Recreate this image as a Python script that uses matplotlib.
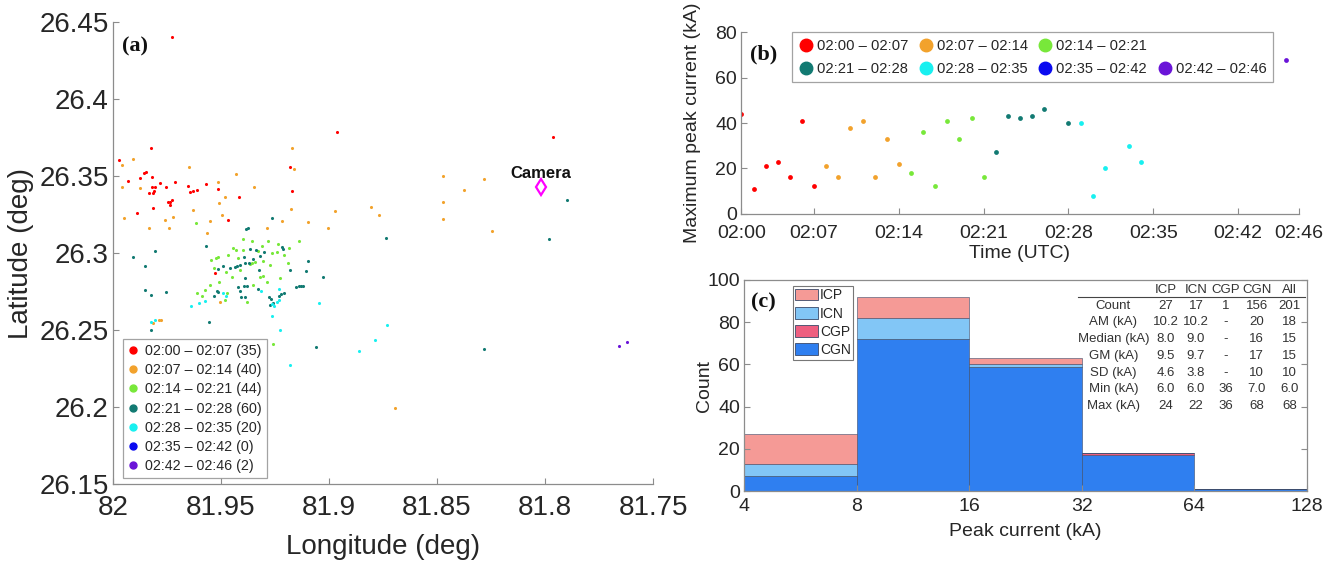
import numpy as np
import matplotlib
matplotlib.use("Agg")
import matplotlib.pyplot as plt
from matplotlib.lines import Line2D
from matplotlib.patches import Patch

plt.rcParams['font.family'] = ['Liberation Sans', 'DejaVu Sans']

# ---------------- data ----------------
period_labels = ['02:00 – 02:07', '02:07 – 02:14', '02:14 – 02:21', '02:21 – 02:28',
                 '02:28 – 02:35', '02:35 – 02:42', '02:42 – 02:46']
period_counts = [35, 40, 44, 60, 20, 0, 2]
period_colors = ['#FF0000', '#F2A22C', '#78E83A', '#127A72', '#18F0F0', '#0A0AF0', '#6A14D8']

# stroke locations (lon, lat) per 7-min period
lon_p1 = [81.9725, 81.8965, 81.7964, 81.9823, 81.9971, 81.9932, 81.9876, 81.9858, 81.9847,
          81.9818, 81.9819, 81.9806, 81.9832, 81.9816, 81.9812, 81.9753, 81.9712, 81.9653,
          81.9642, 81.9628, 81.9611, 81.9569, 81.9747, 81.9738, 81.9726, 81.9738, 81.9815,
          81.9888, 81.9469, 81.9417, 81.9182, 81.9173, 81.9529, 81.9512, 81.9782]
lat_p1 = [26.4408, 26.3787, 26.3757, 26.3685, 26.3605, 26.3471, 26.3486, 26.3519, 26.3527,
          26.3497, 26.3432, 26.3428, 26.3393, 26.3393, 26.3402, 26.3432, 26.3460, 26.3434,
          26.3395, 26.3402, 26.3410, 26.3449, 26.3330, 26.3334, 26.3343, 26.3313, 26.3295,
          26.3259, 26.3217, 26.3367, 26.3558, 26.3406, 26.2869, 26.3414, 26.3455]

lon_p2 = [81.9960, 81.9906, 81.9957, 81.9950, 81.9875, 81.9832, 81.9758, 81.9724, 81.9742,
          81.9650, 81.9631, 81.9551, 81.9512, 81.9511, 81.9483, 81.9497, 81.9566, 81.9431,
          81.9347, 81.9287, 81.9162, 81.9176, 81.9216, 81.9099, 81.9006, 81.8972, 81.9169,
          81.8805, 81.8768, 81.8474, 81.8282, 81.8375, 81.8474, 81.8474, 81.8245, 81.8694,
          81.9816, 81.9788, 81.9776, 81.9505]
lat_p2 = [26.3573, 26.3610, 26.3428, 26.3230, 26.3422, 26.3162, 26.3214, 26.3235, 26.3164,
          26.3558, 26.3281, 26.3211, 26.3463, 26.3324, 26.3363, 26.3246, 26.3133, 26.3515,
          26.3428, 26.3164, 26.3547, 26.3285, 26.3211, 26.3205, 26.3164, 26.3276, 26.3684,
          26.3302, 26.3246, 26.3502, 26.3480, 26.3411, 26.3333, 26.3224, 26.3144, 26.1996,
          26.2548, 26.2564, 26.2564, 26.2683]

lon_p3 = [81.9443, 81.9431, 81.9397, 81.9237, 81.9137, 81.9265, 81.9242, 81.9356, 81.9364,
          81.9343, 81.9304, 81.9304, 81.9288, 81.9319, 81.9450, 81.9378, 81.9545, 81.9523,
          81.9515, 81.9508, 81.9549, 81.9574, 81.9610, 81.9617, 81.9258, 81.9356, 81.9397,
          81.9468, 81.9421, 81.9329, 81.9208, 81.9273, 81.9185, 81.9477, 81.9412, 81.9481,
          81.9352, 81.9190, 81.9282, 81.9588, 81.9532, 81.9472, 81.9227, 81.9310]
lat_p3 = [26.3032, 26.3021, 26.3021, 26.3060, 26.3079, 26.2999, 26.3010, 26.2938, 26.2930,
          26.2945, 26.2951, 26.2852, 26.2815, 26.2847, 26.2843, 26.2685, 26.2956, 26.2967,
          26.2977, 26.2811, 26.2793, 26.2761, 26.2743, 26.3194, 26.2410, 26.3079, 26.3090,
          26.2988, 26.2969, 26.3014, 26.2988, 26.2923, 26.3034, 26.2877, 26.2890, 26.2695,
          26.2793, 26.2936, 26.3079, 26.2722, 26.2903, 26.2741, 26.2838, 26.3047]

lon_p4 = [81.9366, 81.9339, 81.9392, 81.9350, 81.9300, 81.9319, 81.9218, 81.9489, 81.9435,
          81.9424, 81.9412, 81.9390, 81.9370, 81.9097, 81.9106, 81.9029, 81.9389, 81.9392,
          81.9423, 81.9412, 81.9380, 81.9407, 81.9389, 81.9330, 81.9279, 81.9269, 81.9233,
          81.9221, 81.9210, 81.9258, 81.9275, 81.9153, 81.9140, 81.9128, 81.9122, 81.9568,
          81.9807, 81.9909, 81.9853, 81.9514, 81.9458, 81.9852, 81.9823, 81.9756, 81.9520,
          81.9514, 81.9531, 81.9554, 81.9823, 81.9265, 81.9384, 81.9377, 81.9213, 81.7899,
          81.7980, 81.8735, 81.8282, 81.9062, 81.9324, 81.9180]
lat_p4 = [26.3025, 26.3021, 26.2977, 26.2964, 26.3006, 26.2982, 26.3038, 26.2917, 26.2912,
          26.2917, 26.2925, 26.2934, 26.2934, 26.2949, 26.2884, 26.2847, 26.2837, 26.2787,
          26.2778, 26.2756, 26.2789, 26.2713, 26.2713, 26.2765, 26.2713, 26.2702, 26.2722,
          26.2735, 26.2739, 26.2674, 26.2663, 26.2778, 26.2787, 26.2789, 26.2787, 26.3048,
          26.3014, 26.2977, 26.2919, 26.2895, 26.2904, 26.2761, 26.2726, 26.2748, 26.2754,
          26.2748, 26.2724, 26.2551, 26.2499, 26.3227, 26.3157, 26.3162, 26.3027, 26.3346,
          26.3092, 26.3100, 26.2379, 26.2392, 26.2890, 26.2890]

lon_p5 = [81.9489, 81.9316, 81.9230, 81.9230, 81.9265, 81.9265, 81.9225, 81.9045, 81.9637,
          81.9602, 81.9575, 81.9477, 81.9807, 81.8730, 81.8787, 81.8861, 81.9181, 81.9255,
          81.9241, 81.9824]
lat_p5 = [26.2743, 26.2756, 26.2765, 26.2696, 26.2670, 26.2592, 26.2501, 26.2678, 26.2657,
          26.2674, 26.2689, 26.2722, 26.2566, 26.2531, 26.2434, 26.2366, 26.2273, 26.2657,
          26.2683, 26.2553]

lon_p6 = []
lat_p6 = []

lon_p7 = [81.7656, 81.7619]
lat_p7 = [26.2399, 26.2425]

camera_lon, camera_lat = 81.802, 26.3432

# maximum peak current per minute (minute index, kA)
min_p1 = [0, 1, 2, 3, 4, 5, 6]
peak_p1 = [44, 11, 21, 23, 16, 41, 12]
min_p2 = [7, 8, 9, 10, 11, 12, 13]
peak_p2 = [21, 16, 38, 41, 16, 33, 22]
min_p3 = [14, 15, 16, 17, 18, 19, 20]
peak_p3 = [18, 36, 12, 41, 33, 42, 16]
min_p4 = [21, 22, 23, 24, 25, 27]
peak_p4 = [27, 43, 42, 43, 46, 40]
min_p5 = [28, 29, 30, 32, 33]
peak_p5 = [40, 8, 20, 30, 23]
min_p6 = []
peak_p6 = []
min_p7 = [45]
peak_p7 = [68]

time_ticks = [0, 6, 13, 20, 27, 34, 41, 46]
time_labels = ['02:00', '02:07', '02:14', '02:21', '02:28', '02:35', '02:42', '02:46']

# peak current histogram (log2 bins), stacked by stroke type
bin_edges = [4, 8, 16, 32, 64, 128]
count_cgn = [7, 72, 59, 17, 1]
count_cgp = [0, 0, 0, 1, 0]
count_icn = [6, 10, 1, 0, 0]
count_icp = [14, 10, 3, 0, 0]
type_colors = {'ICP': '#F59A96', 'ICN': '#82C6F6', 'CGP': '#EE5F80', 'CGN': '#2F7FF0'}

stat_columns = ['ICP', 'ICN', 'CGP', 'CGN', 'All']
stat_rows = ['Count', 'AM (kA)', 'Median (kA)', 'GM (kA)', 'SD (kA)', 'Min (kA)', 'Max (kA)']
stat_values = [['27', '17', '1', '156', '201'],
               ['10.2', '10.2', '-', '20', '18'],
               ['8.0', '9.0', '-', '16', '15'],
               ['9.5', '9.7', '-', '17', '15'],
               ['4.6', '3.8', '-', '10', '10'],
               ['6.0', '6.0', '36', '7.0', '6.0'],
               ['24', '22', '36', '68', '68']]

# ---------------- figure ----------------
SPINE = '#8c8c8c'
TXT = '#262626'
W, H = 1335, 561
fig = plt.figure(figsize=(W / 100, H / 100), dpi=100)


def px_axes(l, t, r, b):
    return fig.add_axes([l / W, 1 - b / H, (r - l) / W, (b - t) / H])


def style(ax, fs, box=False):
    for s in ['top', 'right']:
        ax.spines[s].set_visible(box)
    for s in ax.spines.values():
        s.set_color(SPINE)
        s.set_linewidth(0.9)
    ax.tick_params(direction='in', length=4, width=0.8, color=SPINE,
                   labelcolor=TXT, labelsize=fs, right=box)


# ---- (a) map ----
axa = px_axes(113, 22.4, 653, 484)
lons = [lon_p1, lon_p2, lon_p3, lon_p4, lon_p5, lon_p6, lon_p7]
lats = [lat_p1, lat_p2, lat_p3, lat_p4, lat_p5, lat_p6, lat_p7]
for lo, la, c in zip(lons, lats, period_colors):
    axa.scatter(lo, la, s=5, color=c, linewidths=0)
axa.plot(camera_lon, camera_lat, marker='d', ms=8, mfc='none', mec='#FF00FF', mew=1.6)
axa.text(camera_lon, camera_lat + 0.004, 'Camera', ha='center', va='bottom',
         fontsize=12, fontweight='bold', color='#111111')
axa.set_xlim(82, 81.75)
axa.set_ylim(26.15, 26.45)
axa.set_xticks([82, 81.95, 81.9, 81.85, 81.8, 81.75],
               ['82', '81.95', '81.9', '81.85', '81.8', '81.75'])
axa.set_yticks([26.15, 26.2, 26.25, 26.3, 26.35, 26.4, 26.45],
               ['26.15', '26.2', '26.25', '26.3', '26.35', '26.4', '26.45'])
style(axa, 20)
axa.tick_params(axis='x', pad=8)
axa.tick_params(axis='y', pad=3)
axa.set_xlabel('Longitude (deg)', fontsize=20, color=TXT)
axa.set_ylabel('Latitude (deg)', fontsize=20, color=TXT)
axa.xaxis.set_label_coords(0.5, -0.108)
axa.yaxis.set_label_coords(-0.146, 0.5)
axa.text(0.017, 0.947, '(a)', transform=axa.transAxes, fontsize=16, fontweight='bold',
         family='Liberation Serif', color='#111111', va='center')
handles_a = [Line2D([], [], ls='none', marker='o', ms=5, color=c) for c in period_colors]
labels_a = [f'{p} ({n})' for p, n in zip(period_labels, period_counts)]
leg = axa.legend(handles_a, labels_a, loc='lower left', bbox_to_anchor=(0.019, 0.013),
                 borderaxespad=0, fontsize=10.3, frameon=True, fancybox=False,
                 handlelength=0.6, handletextpad=0.6, labelspacing=0.36,
                 borderpad=0.35, labelcolor=TXT)
leg.get_frame().set_edgecolor('#8c8c8c')
leg.get_frame().set_linewidth(0.9)

# ---- (b) maximum peak current vs time ----
axb = px_axes(741.4, 32.3, 1298.6, 213.7)
mins = [min_p1, min_p2, min_p3, min_p4, min_p5, min_p6, min_p7]
peaks = [peak_p1, peak_p2, peak_p3, peak_p4, peak_p5, peak_p6, peak_p7]
for m, p, c in zip(mins, peaks, period_colors):
    axb.scatter(m, p, s=12, color=c, linewidths=0)
axb.set_xlim(0, 46)
axb.set_ylim(0, 80)
axb.set_xticks(time_ticks, time_labels)
axb.set_yticks([0, 20, 40, 60, 80])
style(axb, 14)
axb.tick_params(axis='x', pad=8)
axb.tick_params(axis='y', pad=3)
axb.set_xlabel('Time (UTC)', fontsize=14, color=TXT)
axb.set_ylabel('Maximum peak current (kA)', fontsize=14, color=TXT)
axb.xaxis.set_label_coords(0.5, -0.175)
axb.yaxis.set_label_coords(-0.072, 0.5)
axb.text(0.016, 0.875, '(b)', transform=axb.transAxes, fontsize=16, fontweight='bold',
         family='Liberation Serif', color='#111111', va='center')
hb = [Line2D([], [], ls='none', marker='o', ms=9, color=c) for c in period_colors]
blank = Line2D([], [], ls='none')
order_h = [hb[0], hb[3], hb[1], hb[4], hb[2], hb[5], blank, hb[6]]
order_l = [period_labels[0], period_labels[3], period_labels[1], period_labels[4],
           period_labels[2], period_labels[5], '', period_labels[6]]
legb = axb.legend(order_h, order_l, ncol=4, loc='upper left', bbox_to_anchor=(0.0915, 1.0),
                  borderaxespad=0, fontsize=10.6, frameon=True, fancybox=False,
                  handlelength=0.9, handletextpad=0.3, columnspacing=0.75,
                  labelspacing=0.6, borderpad=0.45, labelcolor=TXT)
legb.get_frame().set_edgecolor('#8c8c8c')
legb.get_frame().set_linewidth(0.9)

# ---- (c) histogram of peak current ----
axc = px_axes(744.3, 280, 1306.8, 491)
axc.set_xscale('log', base=2)
left = np.array(bin_edges[:-1])
width = np.diff(bin_edges)
bottom = np.zeros(len(left))
for name, vals in [('CGN', count_cgn), ('CGP', count_cgp), ('ICN', count_icn), ('ICP', count_icp)]:
    axc.bar(left, vals, width=width, bottom=bottom, align='edge', color=type_colors[name],
            edgecolor='#3a4a6a', linewidth=0.4, label=name)
    bottom += np.array(vals)
axc.set_xlim(4, 128)
axc.set_ylim(0, 100)
axc.set_xticks(bin_edges, [str(b) for b in bin_edges])
axc.xaxis.set_minor_locator(matplotlib.ticker.NullLocator())
axc.set_yticks([0, 20, 40, 60, 80, 100])
style(axc, 14, box=True)
axc.tick_params(axis='x', pad=5)
axc.tick_params(axis='y', pad=3)
axc.set_xlabel('Peak current (kA)', fontsize=14, color=TXT)
axc.set_ylabel('Count', fontsize=14, color=TXT)
axc.xaxis.set_label_coords(0.5, -0.15)
axc.yaxis.set_label_coords(-0.056, 0.5)
axc.text(0.012, 0.895, '(c)', transform=axc.transAxes, fontsize=16, fontweight='bold',
         family='Liberation Serif', color='#111111', va='center')
hc = [Patch(facecolor=type_colors[k], edgecolor='#3a4a6a', linewidth=0.6)
      for k in ['ICP', 'ICN', 'CGP', 'CGN']]
legc = axc.legend(hc, ['ICP', 'ICN', 'CGP', 'CGN'], loc='upper left',
                  bbox_to_anchor=(0.086, 0.973), borderaxespad=0, fontsize=10,
                  frameon=True, fancybox=False, handlelength=1.6, handleheight=0.9,
                  handletextpad=0.15, labelspacing=0.3, borderpad=0.2, labelcolor=TXT)
legc.get_frame().set_edgecolor('#555555')
legc.get_frame().set_linewidth(0.8)

# statistics table
col_x = [0.749, 0.803, 0.856, 0.911, 0.969]
row_y = [0.877, 0.800, 0.719, 0.640, 0.561, 0.482, 0.403]
tfs = 9.5
for cx, name in zip(col_x, stat_columns):
    axc.text(cx, 0.953, name, transform=axc.transAxes, ha='center', va='center',
             fontsize=tfs, color='#333333')
axc.plot([0.593, 0.997], [0.921, 0.921], transform=axc.transAxes, color='#444444', lw=0.8)
for ry, rname, vals in zip(row_y, stat_rows, stat_values):
    axc.text(0.656, ry, rname, transform=axc.transAxes, ha='center', va='center',
             fontsize=tfs, color='#333333')
    for cx, v in zip(col_x, vals):
        axc.text(cx, ry, v, transform=axc.transAxes, ha='center', va='center',
                 fontsize=tfs, color='#333333')

fig.savefig('out.png', dpi=100)
